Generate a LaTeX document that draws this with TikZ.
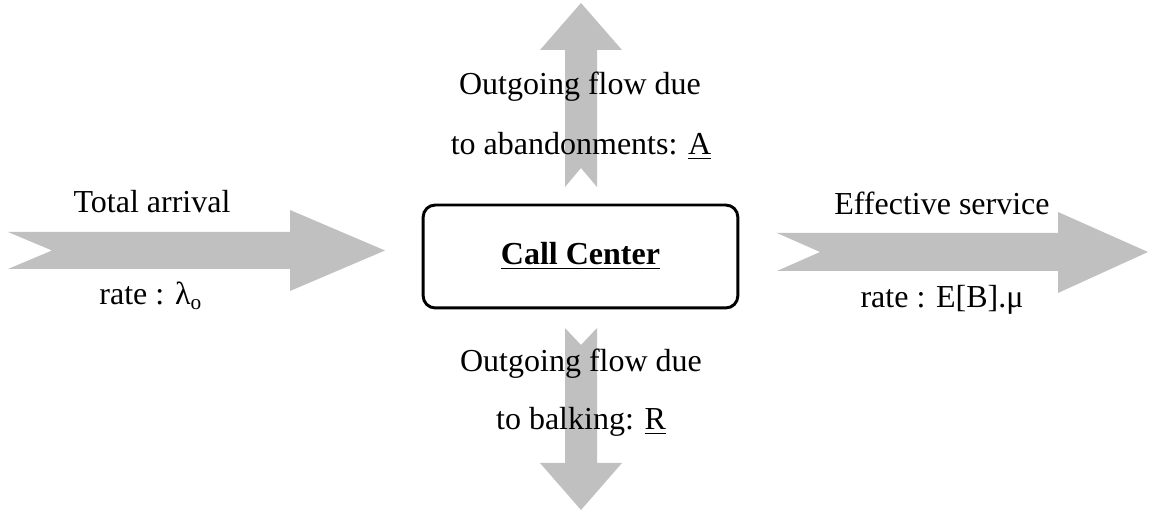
\documentclass[tikz,border=0pt]{standalone}
\usepackage{fontspec}
\setmainfont{Liberation Serif}
\definecolor{flowgray}{RGB}{192,192,192}

\begin{document}
\begin{tikzpicture}[x=0.375pt, y=-0.375pt,
flow/.style={fill=flowgray, draw=none},
lbl/.style={anchor=base, inner sep=0pt, font=\fontsize{12}{14}\selectfont},
centerbox/.style={rectangle, rounded corners=4.5pt, draw=black, line width=1.1pt, minimum width=118pt, minimum height=38.6pt, text centered, font=\fontsize{12}{14}\selectfont\bfseries},
]
  \useasboundingbox (0,0) rectangle (1149,515);

  % block arrows
  \fill[flow] (8,232) -- (290,232) -- (290,210) -- (385,250.5) -- (290,291) -- (290,269) -- (8,269) -- (52,250.5) -- cycle;
  \fill[flow] (777,233) -- (1058,233) -- (1058,212) -- (1148,252) -- (1058,293) -- (1058,271) -- (777,271) -- (820,252) -- cycle;
  \fill[flow] (565,187) -- (565,50) -- (540,50) -- (581,3) -- (622,50) -- (597,50) -- (597,187) -- (581,168) -- cycle;
  \fill[flow] (565,328) -- (581,345) -- (597,328) -- (597,463) -- (622,463) -- (581,510) -- (540,463) -- (565,463) -- cycle;

  \node (callcenter) [centerbox] at (580.5,256.5) {\underline{Call Center}};

  \node (arrivalTop) [lbl] at (152,213) {Total arrival};
  \node (arrivalBot) [lbl] at (151,305) {rate : λ\textsubscript{o}};
  \node (serviceTop) [lbl] at (942,215) {Effective service};
  \node (serviceBot) [lbl] at (942,308) {rate : E[B].μ};
  \node (abandonTop) [lbl] at (580,95) {Outgoing flow due};
  \node (abandonBot) [lbl] at (581,155) {to abandonments: \underline{A}};
  \node (balkTop) [lbl] at (581,372) {Outgoing flow due};
  \node (balkBot) [lbl] at (581,430) {to balking: \underline{R}};
\end{tikzpicture}
\end{document}
